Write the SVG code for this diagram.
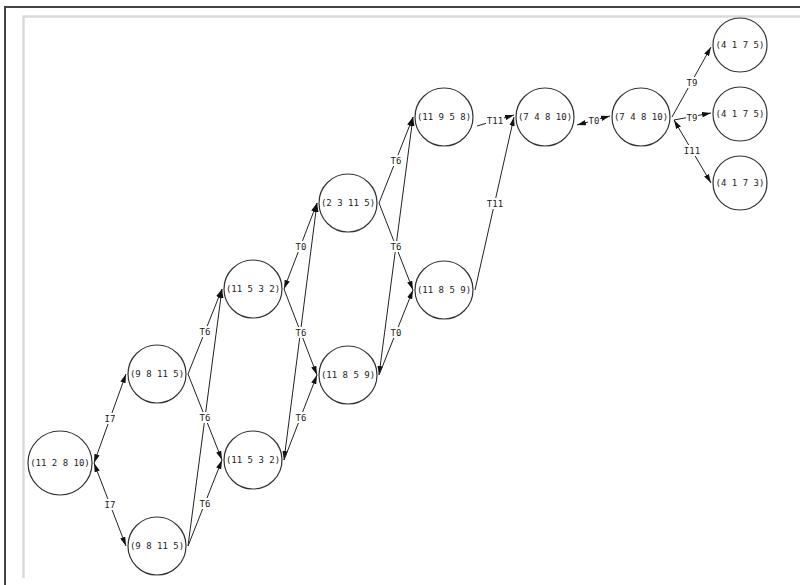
<svg xmlns="http://www.w3.org/2000/svg" width="800" height="585" viewBox="0 0 800 585">
<defs>
<marker id="ah" viewBox="0 0 10 6" refX="10" refY="3" markerWidth="9" markerHeight="6" orient="auto-start-reverse" markerUnits="userSpaceOnUse"><path d="M0,0 L10,3 L0,6 z" fill="#111"/></marker>
<style>
.n circle{fill:#fff;stroke:#333;stroke-width:1.2}
.n text{font-family:"DejaVu Sans Mono","Liberation Mono",monospace;font-size:9px;fill:#222;text-anchor:middle}
.e{fill:none;stroke:#222;stroke-width:1}
.one{marker-end:url(#ah)}
.two{marker-start:url(#ah);marker-end:url(#ah)}
.lb rect{fill:#fff}
.lb text{font-family:"DejaVu Sans Mono","Liberation Mono",monospace;font-size:9px;fill:#222;text-anchor:middle}
</style>
</defs>
<rect width="800" height="585" fill="#fff"/>
<path d="M5,585 V7 H800" fill="none" stroke="#444" stroke-width="2"/>
<path d="M23.5,578 V16.5 H800" fill="none" stroke="#dadada" stroke-width="2.5"/>
<g id="connectors">
<path class="e two" d="M94,463 L126,374"/>
<path class="e two" d="M94,463 L126,546"/>
<path class="e one" d="M188,374 L222,289"/>
<path class="e one" d="M188,374 L222,460"/>
<path class="e one" d="M188,546 L222,289"/>
<path class="e one" d="M188,546 L222,460"/>
<path class="e two" d="M284,289 L317,203"/>
<path class="e one" d="M284,289 L317,375"/>
<path class="e two" d="M284,460 L317,203"/>
<path class="e one" d="M284,460 L317,375"/>
<path class="e one" d="M379,203 L413,117"/>
<path class="e one" d="M379,203 L413,290"/>
<path class="e two" d="M379,375 L413,117"/>
<path class="e one" d="M379,375 L413,290"/>
<path class="e one" d="M477,126 L514,115"/>
<path class="e one" d="M475,290 L514,117"/>
<path class="e two" d="M577,125 L610,116"/>
<path class="e one" d="M672,117 L711,47"/>
<path class="e one" d="M674,120 L711,113"/>
<path class="e two" d="M674,120 L711,183"/>
<g class="lb">
<rect x="104" y="413" width="12" height="11"/><text x="110" y="422">I7</text>
<rect x="104" y="499" width="12" height="11"/><text x="110" y="508">I7</text>
<rect x="199" y="326" width="12" height="11"/><text x="205" y="335">T6</text>
<rect x="199" y="412" width="12" height="11"/><text x="205" y="421">T6</text>
<rect x="199" y="498" width="12" height="11"/><text x="205" y="507">T6</text>
<rect x="295" y="241" width="12" height="11"/><text x="301" y="250">T0</text>
<rect x="295" y="327" width="12" height="11"/><text x="301" y="336">T6</text>
<rect x="295" y="412" width="12" height="11"/><text x="301" y="421">T6</text>
<rect x="390" y="155" width="12" height="11"/><text x="396" y="164">T6</text>
<rect x="390" y="241" width="12" height="11"/><text x="396" y="250">T6</text>
<rect x="390" y="327" width="12" height="11"/><text x="396" y="336">T0</text>
<rect x="486" y="115" width="18" height="11"/><text x="495" y="124">T11</text>
<rect x="486" y="198" width="18" height="11"/><text x="495" y="207">T11</text>
<rect x="588" y="115" width="12" height="11"/><text x="594" y="124">T0</text>
<rect x="686" y="77" width="12" height="11"/><text x="692" y="86">T9</text>
<rect x="686" y="112" width="12" height="11"/><text x="692" y="121">T9</text>
<rect x="683" y="145" width="18" height="11"/><text x="692" y="154">I11</text>
</g>
</g>
<g id="n1" class="n"><circle cx="60" cy="463" r="32"/><text x="60" y="466">(11 2 8 10)</text></g>
<g id="n2" class="n"><circle cx="157" cy="374" r="29"/><text x="157" y="377">(9 8 11 5)</text></g>
<g id="n3" class="n"><circle cx="157" cy="546" r="29"/><text x="157" y="549">(9 8 11 5)</text></g>
<g id="n4" class="n"><circle cx="253" cy="289" r="29"/><text x="253" y="292">(11 5 3 2)</text></g>
<g id="n5" class="n"><circle cx="253" cy="460" r="29"/><text x="253" y="463">(11 5 3 2)</text></g>
<g id="n6" class="n"><circle cx="348" cy="203" r="29"/><text x="348" y="206">(2 3 11 5)</text></g>
<g id="n7" class="n"><circle cx="348" cy="375" r="29"/><text x="348" y="378">(11 8 5 9)</text></g>
<g id="n8" class="n"><circle cx="444" cy="117" r="29"/><text x="444" y="120">(11 9 5 8)</text></g>
<g id="n9" class="n"><circle cx="444" cy="290" r="29"/><text x="444" y="293">(11 8 5 9)</text></g>
<g id="n10" class="n"><circle cx="545" cy="117" r="29"/><text x="545" y="120">(7 4 8 10)</text></g>
<g id="n11" class="n"><circle cx="641" cy="117" r="29"/><text x="641" y="120">(7 4 8 10)</text></g>
<g id="n12" class="n"><circle cx="740" cy="45" r="27"/><text x="740" y="48">(4 1 7 5)</text></g>
<g id="n13" class="n"><circle cx="740" cy="114" r="27"/><text x="740" y="117">(4 1 7 5)</text></g>
<g id="n14" class="n"><circle cx="740" cy="183" r="27"/><text x="740" y="186">(4 1 7 3)</text></g>
</svg>
